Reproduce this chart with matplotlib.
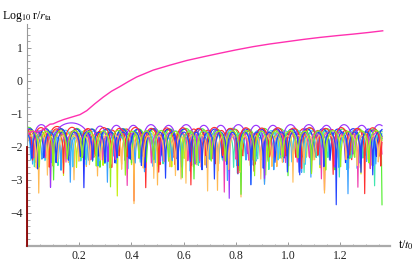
import numpy as np
import matplotlib
matplotlib.use("Agg")
import matplotlib.pyplot as plt
from matplotlib.ticker import MultipleLocator

plt.rcParams['font.family'] = ['Liberation Serif', 'DejaVu Serif']
plt.rcParams['mathtext.fontset'] = 'stix'

# times (t/t0) where each bound orbit passes through the centre (dips)
red_dips = [-0.02, 0.035, 0.077, 0.153, 0.2, 0.255, 0.3, 0.352, 0.41, 0.455, 0.51, 0.565, 0.61, 0.668,
            0.72, 0.77, 0.826, 0.875, 0.93, 0.985, 1.03, 1.09, 1.14, 1.195, 1.245, 1.3, 1.352, 1.40]
orange_dips = [-0.01, 0.045, 0.09, 0.132, 0.18, 0.228, 0.27, 0.318, 0.362, 0.41, 0.452, 0.5, 0.547, 0.59,
               0.638, 0.682, 0.73, 0.774, 0.82, 0.866, 0.91, 0.957, 1.002, 1.048, 1.094, 1.14, 1.186,
               1.232, 1.277, 1.323, 1.37]
yellow_dips = [-0.025, 0.03, 0.082, 0.14, 0.19, 0.245, 0.292, 0.346, 0.4, 0.447, 0.502, 0.555, 0.603,
               0.657, 0.71, 0.76, 0.812, 0.864, 0.915, 0.968, 1.02, 1.07, 1.123, 1.176, 1.227, 1.28,
               1.333, 1.385]
green_dips = [-0.03, 0.04, 0.102, 0.16, 0.222, 0.28, 0.34, 0.4, 0.458, 0.52, 0.578, 0.64, 0.7, 0.757,
              0.82, 0.878, 0.94, 1.0, 1.058, 1.12, 1.18, 1.238, 1.3, 1.36]
aqua_dips = [-0.015, 0.028, 0.072, 0.118, 0.163, 0.207, 0.252, 0.298, 0.342, 0.387, 0.433, 0.478, 0.522,
             0.568, 0.613, 0.657, 0.703, 0.748, 0.792, 0.838, 0.883, 0.927, 0.973, 1.018, 1.062, 1.108,
             1.153, 1.197, 1.243, 1.288, 1.332, 1.378]
cyan_dips = [-0.035, 0.015, 0.068, 0.12, 0.175, 0.228, 0.278, 0.333, 0.386, 0.437, 0.49, 0.544, 0.595,
             0.648, 0.7, 0.752, 0.806, 0.858, 0.91, 0.963, 1.015, 1.067, 1.12, 1.172, 1.225, 1.278,
             1.33, 1.382]
azure_dips = [-0.012, 0.022, 0.058, 0.094, 0.13, 0.166, 0.2, 0.236, 0.272, 0.308, 0.342, 0.378, 0.414,
              0.45, 0.484, 0.52, 0.556, 0.592, 0.626, 0.662, 0.698, 0.734, 0.768, 0.804, 0.84, 0.876,
              0.91, 0.946, 0.982, 1.018, 1.052, 1.088, 1.124, 1.16, 1.194, 1.23, 1.266, 1.302, 1.336,
              1.372]
blue_dips = [-0.02, 0.04, 0.1, 0.16, 0.218, 0.276, 0.336, 0.395, 0.453, 0.513, 0.572, 0.63, 0.69, 0.748,
             0.808, 0.867, 0.925, 0.985, 1.043, 1.103, 1.162, 1.22, 1.28, 1.338, 1.398]
violet_dips = [-0.03, 0.02, 0.09, 0.25, 0.31, 0.375, 0.44, 0.51, 0.575, 0.645, 0.71, 0.775, 0.845, 0.91,
               0.975, 1.045, 1.115, 1.18, 1.25, 1.315, 1.385]
pink_dips = [-0.02, 0.025, 0.07, 0.1, 0.15, 0.2, 0.245, 0.29, 0.338, 0.384, 0.43, 0.477, 0.523, 0.57,
             0.617, 0.662, 0.71, 0.756, 0.802, 0.85, 0.895, 0.942, 0.99, 1.035, 1.082, 1.128, 1.175,
             1.222, 1.268, 1.315, 1.362]
red2_dips = [-0.04, 0.022, 0.085, 0.14, 0.205, 0.262, 0.325, 0.383, 0.447, 0.505, 0.566, 0.628, 0.686,
             0.75, 0.808, 0.87, 0.93, 0.992, 1.052, 1.115, 1.173, 1.236, 1.294, 1.356, 1.418]
orange2_dips = [-0.005, 0.036, 0.078, 0.117, 0.158, 0.2, 0.24, 0.281, 0.323, 0.363, 0.404, 0.446, 0.486,
                0.527, 0.569, 0.609, 0.65, 0.692, 0.732, 0.773, 0.815, 0.855, 0.896, 0.938, 0.978,
                1.019, 1.061, 1.101, 1.142, 1.184, 1.224, 1.265, 1.307, 1.347, 1.388]
blue2_dips = [-0.028, 0.018, 0.065, 0.112, 0.158, 0.205, 0.252, 0.298, 0.345, 0.392, 0.438, 0.485,
              0.531, 0.578, 0.625, 0.671, 0.718, 0.765, 0.811, 0.858, 0.905, 0.951, 0.998, 1.045,
              1.091, 1.138, 1.185, 1.231, 1.278, 1.325, 1.371]
lime_dips = [-0.01, 0.047, 0.1, 0.155, 0.212, 0.265, 0.32, 0.377, 0.43, 0.485, 0.542, 0.595, 0.65,
             0.707, 0.76, 0.815, 0.872, 0.925, 0.98, 1.037, 1.09, 1.145, 1.202, 1.255, 1.31, 1.367]

# log10 r/r_ta of an arch 0.05 wide, per orbit
orbit_levels = [-1.5, -1.58, -1.55, -1.5, -1.56, -1.52, -1.6, -1.5, -1.42, -1.55,
                -1.48, -1.6, -1.53, -1.54]
orbit_dips = [red_dips, orange_dips, yellow_dips, green_dips, aqua_dips, cyan_dips, azure_dips,
              blue_dips, violet_dips, pink_dips, red2_dips, orange2_dips, blue2_dips, lime_dips]
orbit_colors = ['#ff2a2a', '#ffb850', '#c8ee10', '#55ee33', '#40e6b0', '#40c8ff', '#3aa0ff',
                '#2030ff', '#9a35ff', '#f040b0', '#ff3030', '#ffc060', '#2244ff', '#90f020']

# escaping orbit
esc_t = [0.0, 0.02, 0.04, 0.06, 0.075, 0.088, 0.10, 0.12, 0.14, 0.165, 0.203, 0.229, 0.26, 0.292,
         0.324, 0.356, 0.388, 0.42, 0.484, 0.548, 0.612, 0.68, 0.739, 0.80, 0.867, 0.93, 0.995,
         1.06, 1.123, 1.19, 1.25, 1.31, 1.363]
esc_y = [-1.62, -1.52, -1.55, -1.48, -1.38, -1.31, -1.30, -1.23, -1.17, -1.11, -1.02, -0.90, -0.69,
         -0.49, -0.31, -0.17, -0.02, 0.12, 0.33, 0.48, 0.62, 0.74, 0.84, 0.94, 1.04, 1.12, 1.19,
         1.26, 1.32, 1.375, 1.42, 1.47, 1.52]

t_end = 1.362
tgrid = np.arange(0.0, t_end, 0.00237)

fig = plt.figure(figsize=(4.17, 2.64), dpi=100)
ax = fig.add_axes([27 / 417, 18 / 264, 363 / 417, 221.8 / 264])

for dips, lev, col in zip(orbit_dips, orbit_levels, orbit_colors):
    d = np.array(dips)
    idx = np.clip(np.searchsorted(d, tgrid) - 1, 0, len(d) - 2)
    a, b = d[idx], d[idx + 1]
    w = b - a
    u = (tgrid - a) / w
    peak = np.minimum(lev + (2 / 3) * np.log10(w / 0.05), -1.27)
    s = np.clip(np.sin(np.pi * u), 1e-9, None)
    y = np.maximum(peak + (2 / 3) * np.log10(s), -3.75)
    ax.plot(tgrid, y, color=col, lw=0.85)

ax.plot(esc_t, esc_y, color='#ff30b0', lw=1.0)
ax.plot([0, 0], [-5, -2.0], color='#8b0000', lw=1.3, clip_on=False, zorder=5)

ax.set_xlim(0, 1.391)
ax.set_ylim(-5, 1.72)
ax.set_xticks([0.2, 0.4, 0.6, 0.8, 1.0, 1.2])
ax.set_xticklabels(['0.2', '0.4', '0.6', '0.8', '1.0', '1.2'])
ax.set_yticks([-4, -3, -2, -1, 0, 1])
ax.set_yticklabels(['\u22124', '\u22123', '\u22122', '\u22121', '0', '1'])
ax.xaxis.set_minor_locator(MultipleLocator(0.05))
ax.yaxis.set_minor_locator(MultipleLocator(0.2))

for s in ['top', 'right']:
    ax.spines[s].set_visible(False)
ax.spines['left'].set_color('#999999')
ax.spines['left'].set_linewidth(0.8)
ax.spines['bottom'].set_color('#aaaaaa')
ax.spines['bottom'].set_linewidth(1.6)
ax.tick_params(which='both', direction='in', color='#999999', labelsize=8.5, labelcolor='#222222')
ax.tick_params(which='major', length=3.2, width=0.7)
ax.tick_params(which='minor', length=1.8, width=0.6)
ax.tick_params(axis='x', pad=3)
ax.tick_params(axis='y', pad=3)

fig.text(0.005, 0.965, r'Log$_{10}$ r/$r_{\rm ta}$', fontsize=8.5, va='top', ha='left')
fig.text(0.955, 0.07, r't/$t_0$', fontsize=8.5, va='center', ha='left')

fig.savefig('out.png', dpi=100)
